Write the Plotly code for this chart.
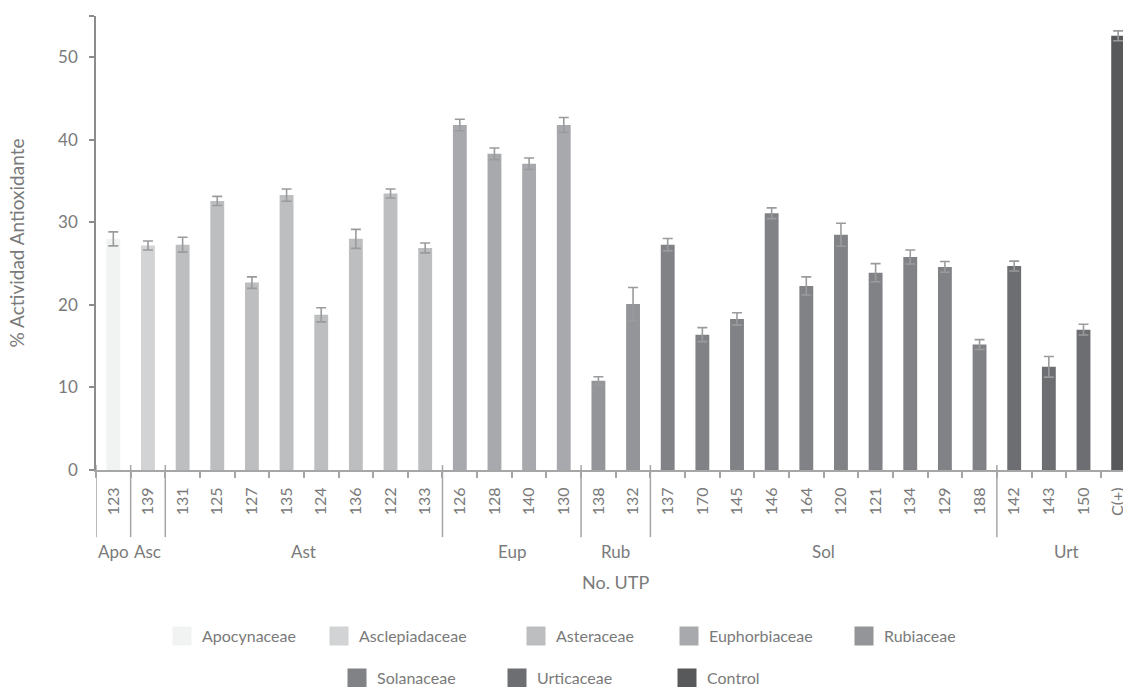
import plotly.graph_objects as go

# ---- data ----
codes = ["123", "139", "131", "125", "127", "135", "124", "136", "122", "133",
         "126", "128", "140", "130", "138", "132",
         "137", "170", "145", "146", "164", "120", "121", "134", "129", "188",
         "142", "143", "150", "C(+)"]
values = [28.0, 27.2, 27.3, 32.6, 22.7, 33.3, 18.8, 28.0, 33.5, 26.9,
          41.8, 38.3, 37.1, 41.8, 10.8, 20.1,
          27.3, 16.4, 18.3, 31.1, 22.3, 28.5, 23.9, 25.8, 24.6, 15.2,
          24.7, 12.5, 17.0, 52.6]
errors = [0.85, 0.55, 0.9, 0.55, 0.7, 0.75, 0.85, 1.15, 0.55, 0.6,
          0.7, 0.7, 0.7, 0.9, 0.5, 2.0,
          0.75, 0.85, 0.75, 0.65, 1.1, 1.4, 1.1, 0.85, 0.65, 0.6,
          0.6, 1.25, 0.65, 0.6]
family = (["Apocynaceae"] + ["Asclepiadaceae"] + ["Asteraceae"] * 8 + ["Euphorbiaceae"] * 4
          + ["Rubiaceae"] * 2 + ["Solanaceae"] * 10 + ["Urticaceae"] * 3 + ["Control"])
axis_groups = ["Apo", "Asc", "Ast", "Eup", "Rub", "Sol", "Urt"]
axis_group_sizes = [1, 1, 8, 4, 2, 10, 4]
families = ["Apocynaceae", "Asclepiadaceae", "Asteraceae", "Euphorbiaceae", "Rubiaceae",
            "Solanaceae", "Urticaceae", "Control"]
colors = ["#F1F2F2", "#D1D3D4", "#BCBEC0", "#A7A9AC", "#939598", "#808285", "#6D6E71", "#58595B"]

TXT = "#7a7a7a"
FONT = "Lato"
W = 400

fig = go.Figure()
for fam, col in zip(families, colors):
    idx = [i for i, f in enumerate(family) if f == fam]
    fig.add_trace(go.Bar(
        x=[codes[i] for i in idx], y=[values[i] for i in idx],
        marker=dict(color=col, line=dict(width=0)), width=0.4,
        error_y=dict(type="data", array=[errors[i] for i in idx],
                     color="#9a9b9d", thickness=1.6, width=5),
        showlegend=False, name=fam))

# legend entries (one legend per entry for exact placement)
leg_pos = [(162, 636), (319, 636), (516, 636), (669, 636), (844, 636),
           (337, 678), (497, 678), (667, 678)]
for k, (fam, col) in enumerate(zip(families, colors)):
    lid = "legend" if k == 0 else f"legend{k+1}"
    fig.add_trace(go.Scatter(
        x=[None], y=[None], mode="markers", name=fam, legend=lid,
        marker=dict(symbol="square", size=16, color=col, line=dict(color=col, width=3))))
    lx, ly = leg_pos[k]
    fig.update_layout({lid: dict(x=lx / 1123, y=1 - ly / 687, xref="container", yref="container",
                                 xanchor="left", yanchor="middle", orientation="h",
                                 bgcolor="rgba(0,0,0,0)", borderwidth=0,
                                 font=dict(family=FONT, size=16, color=TXT, weight=W))})

# group dividers and labels on the category axis
pos = -0.5
bounds = [pos]
for n in axis_group_sizes:
    pos += n
    bounds.append(pos)
for b in bounds[:-1]:
    fig.add_shape(type="line", xref="x", yref="paper", x0=b, x1=b, y0=0.011, y1=-0.148,
                  line=dict(color="#a6a6a6", width=1.5))
for g, a, b in zip(axis_groups, bounds[:-1], bounds[1:]):
    fig.add_annotation(x=(a + b) / 2, y=-0.18, xref="x", yref="paper", text=g,
                       showarrow=False, yanchor="middle",
                       font=dict(family=FONT, size=17, color=TXT, weight=W))
fig.add_annotation(x=(len(codes) - 1) / 2, y=-0.247, xref="x", yref="paper", text="No. UTP",
                   showarrow=False, yanchor="middle",
                   font=dict(family=FONT, size=18, color=TXT, weight=W))

fig.update_layout(
    width=1123, height=687,
    margin=dict(l=96, r=0, t=16, b=217),
    paper_bgcolor="white", plot_bgcolor="white",
    barmode="overlay",
    font=dict(family=FONT, size=16, color=TXT, weight=W),
    xaxis=dict(type="category", categoryorder="array", categoryarray=codes,
               range=[-0.5, 29.14], tickangle=-90, tickson="boundaries",
               ticks="outside", ticklen=6, tickwidth=1.5, tickcolor="#a6a6a6",
               showline=True, linecolor="#a6a6a6", linewidth=2,
               showgrid=False, zeroline=False, automargin=False,
               ticklabelstandoff=9,
               tickfont=dict(family=FONT, size=16, color=TXT, weight=W)),
    yaxis=dict(range=[0, 55], tickvals=[0, 10, 20, 30, 40, 50, 55],
               ticktext=["0", "10", "20", "30", "40", "50", ""],
               ticks="outside", ticklen=5, tickwidth=1.5, tickcolor="#8c8c8c",
               showline=True, linecolor="#8c8c8c", linewidth=1.5,
               showgrid=False, zeroline=False, automargin=False,
               ticklabelstandoff=8,
               tickfont=dict(family=FONT, size=17, color=TXT, weight=W),
               title=dict(text="% Actividad Antioxidante", standoff=28,
                          font=dict(family=FONT, size=19, color=TXT, weight=W))),
)

fig.write_html("out.html")
